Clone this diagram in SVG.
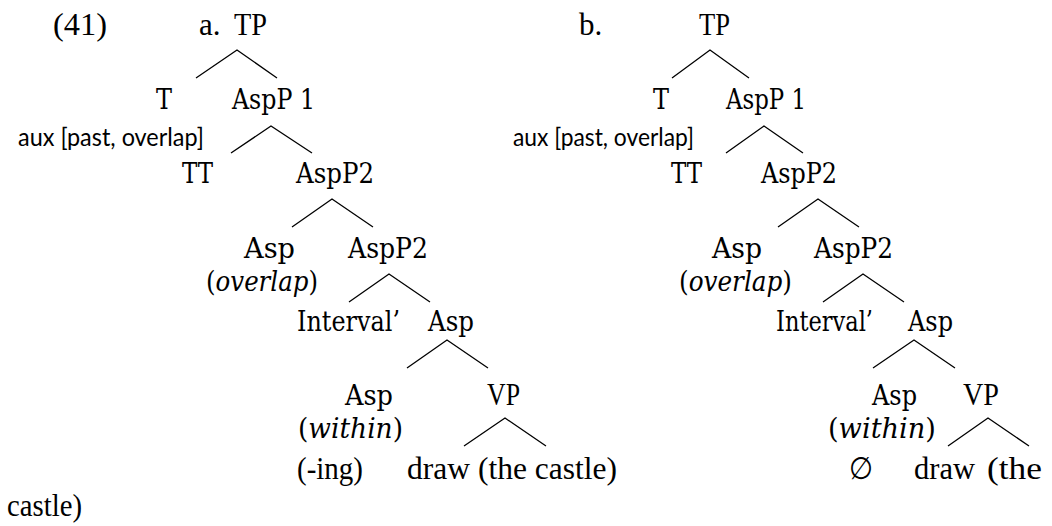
<svg xmlns="http://www.w3.org/2000/svg" width="1052" height="526" viewBox="0 0 1052 526">
<style>
.tm{font-family:"Liberation Serif","Times New Roman",serif;font-size:31px;fill:#000}
.cb{font-family:"DejaVu Serif",serif;font-size:27px;fill:#000}
.cl{font-family:Lato,"Liberation Sans",sans-serif;font-size:25px;fill:#000}
.it{font-style:italic}
.edge{fill:none;stroke:#000;stroke-width:1.3}
</style>
<rect width="1052" height="526" fill="#fff"/>
<g id="labels">
<text class="tm" x="53" y="35" textLength="54" lengthAdjust="spacingAndGlyphs">(41)</text>
<text class="tm" x="199" y="35">a.</text>
<text class="tm" x="579" y="35">b.</text>
<text class="tm" x="7" y="516" textLength="75" lengthAdjust="spacingAndGlyphs">castle)</text>
</g>
<g id="connectors">
<polyline class="edge" points="196,78 237,50 277,78"/>
<polyline class="edge" points="231,153 271,126 312,153"/>
<polyline class="edge" points="292,227 332,199 373,227"/>
<polyline class="edge" points="349,302 389,274 430,302"/>
<polyline class="edge" points="407,368 447,340 488,368"/>
<polyline class="edge" points="464,446 505,418 546,446"/>
<polyline class="edge" points="672,78 710,50 749,78"/>
<polyline class="edge" points="726,153 764,126 803,153"/>
<polyline class="edge" points="778,227 818,199 859,227"/>
<polyline class="edge" points="823,302 863,274 904,302"/>
<polyline class="edge" points="873,368 914,340 955,368"/>
<polyline class="edge" points="948,446 988,418 1029,446"/>
</g>
<g id="treeA">
<g id="a-TP"><text class="tm" x="234" y="35" textLength="33" lengthAdjust="spacingAndGlyphs">TP</text></g>
<g id="a-T"><text class="cb" x="156" y="109" textLength="16" lengthAdjust="spacingAndGlyphs">T</text></g>
<g id="a-AspP1"><text class="cb" x="232" y="109" textLength="83" lengthAdjust="spacingAndGlyphs">AspP 1</text></g>
<g id="a-aux"><text class="cl" x="18" y="146" textLength="186" lengthAdjust="spacingAndGlyphs">aux [past, overlap]</text></g>
<g id="a-TT"><text class="cb" x="182" y="183" textLength="31" lengthAdjust="spacingAndGlyphs">TT</text></g>
<g id="a-AspP2a"><text class="cb" x="296" y="183" textLength="78" lengthAdjust="spacingAndGlyphs">AspP2</text></g>
<g id="a-Asp1"><text class="cb" x="244" y="258" textLength="51" lengthAdjust="spacingAndGlyphs">Asp</text><text class="cb" x="206" y="291" textLength="112" lengthAdjust="spacingAndGlyphs">(<tspan class="it">overlap</tspan>)</text></g>
<g id="a-AspP2b"><text class="cb" x="348" y="258" textLength="80" lengthAdjust="spacingAndGlyphs">AspP2</text></g>
<g id="a-Interval"><text class="cb" x="297" y="331" textLength="103" lengthAdjust="spacingAndGlyphs">Interval’</text></g>
<g id="a-Asp2"><text class="cb" x="428" y="331" textLength="46" lengthAdjust="spacingAndGlyphs">Asp</text></g>
<g id="a-Asp3"><text class="cb" x="345" y="405" textLength="48" lengthAdjust="spacingAndGlyphs">Asp</text><text class="cb" x="298" y="438" textLength="105" lengthAdjust="spacingAndGlyphs">(<tspan class="it">within</tspan>)</text><text class="tm" x="297" y="479" textLength="66" lengthAdjust="spacingAndGlyphs">(-ing)</text></g>
<g id="a-VP"><text class="tm" x="487" y="405" textLength="33" lengthAdjust="spacingAndGlyphs">VP</text><text class="tm" x="407" y="479" textLength="210" lengthAdjust="spacingAndGlyphs">draw (the castle)</text></g>
</g>
<g id="treeB">
<g id="b-TP"><text class="tm" x="699" y="35" textLength="31" lengthAdjust="spacingAndGlyphs">TP</text></g>
<g id="b-T"><text class="cb" x="653" y="109" textLength="16" lengthAdjust="spacingAndGlyphs">T</text></g>
<g id="b-AspP1"><text class="cb" x="726" y="109" textLength="80" lengthAdjust="spacingAndGlyphs">AspP 1</text></g>
<g id="b-aux"><text class="cl" x="513" y="146" textLength="181" lengthAdjust="spacingAndGlyphs">aux [past, overlap]</text></g>
<g id="b-TT"><text class="cb" x="671" y="183" textLength="31" lengthAdjust="spacingAndGlyphs">TT</text></g>
<g id="b-AspP2a"><text class="cb" x="761" y="183" textLength="76" lengthAdjust="spacingAndGlyphs">AspP2</text></g>
<g id="b-Asp1"><text class="cb" x="712" y="258" textLength="50" lengthAdjust="spacingAndGlyphs">Asp</text><text class="cb" x="679" y="291" textLength="113" lengthAdjust="spacingAndGlyphs">(<tspan class="it">overlap</tspan>)</text></g>
<g id="b-AspP2b"><text class="cb" x="814" y="258" textLength="79" lengthAdjust="spacingAndGlyphs">AspP2</text></g>
<g id="b-Interval"><text class="cb" x="776" y="331" textLength="97" lengthAdjust="spacingAndGlyphs">Interval’</text></g>
<g id="b-Asp2"><text class="cb" x="908" y="331" textLength="45" lengthAdjust="spacingAndGlyphs">Asp</text></g>
<g id="b-Asp3"><text class="cb" x="872" y="405" textLength="45" lengthAdjust="spacingAndGlyphs">Asp</text><text class="cb" x="828" y="438" textLength="108" lengthAdjust="spacingAndGlyphs">(<tspan class="it">within</tspan>)</text><text class="tm" x="849" y="479" style="font-family:'DejaVu Sans',sans-serif;font-weight:200" textLength="24" lengthAdjust="spacingAndGlyphs">∅</text></g>
<g id="b-VP"><text class="tm" x="963" y="405" textLength="36" lengthAdjust="spacingAndGlyphs">VP</text><text class="tm" x="914" y="479" textLength="61" lengthAdjust="spacingAndGlyphs">draw</text><text class="tm" x="987" y="479" textLength="55" lengthAdjust="spacingAndGlyphs">(the</text></g>
</g>
</svg>
